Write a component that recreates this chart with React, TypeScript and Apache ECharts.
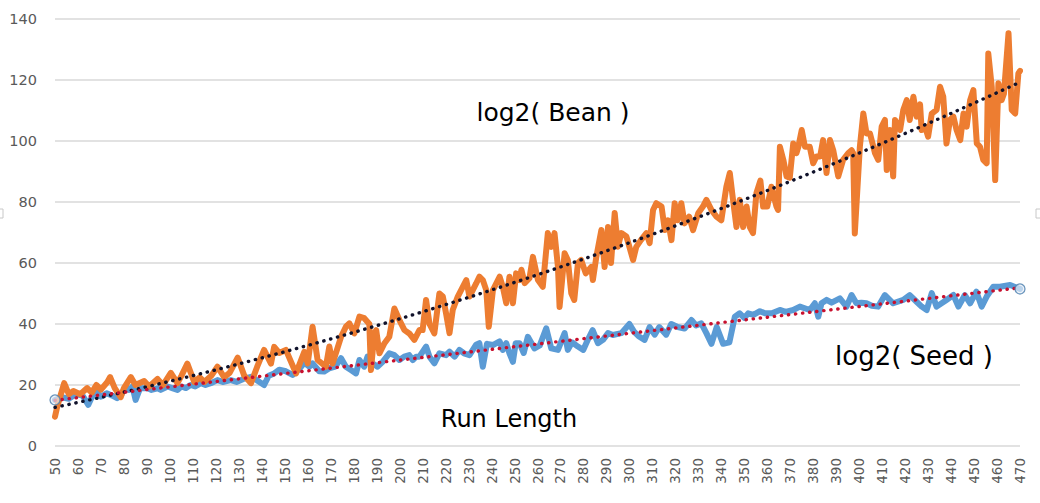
import React, { useEffect, useRef } from "react";
import * as echarts from "echarts";

// Run length (x) and log2(Bean) (y)
const beanData: [number, number][] = [
  [50, 9.6], [51, 13], [54, 20.6], [56, 17], [58, 18], [61, 17], [64, 19], [66, 17.5], [68, 20], [70, 18.5],
  [72.8, 21], [74, 22.6], [76, 19], [78.6, 16], [80, 19], [83, 22.6], [85, 20], [88.8, 21.3], [91, 19.5], [94.6, 22],
  [97, 20], [100.4, 24], [103.3, 20.6], [105, 23], [107.6, 27], [110.6, 21], [113, 22.5], [115, 21], [118, 23], [120.7, 26],
  [123.6, 22.6], [126, 24], [129.5, 29], [132.4, 23], [135.3, 20.6], [138, 26], [141, 31.5], [144, 27], [145.4, 32.5], [147.6, 30.5],
  [150.5, 31.5], [152.5, 28], [154.9, 23.8], [158.5, 30.9], [160, 27.1], [162.1, 39.1], [164.3, 28.2], [167.9, 26], [169.4, 32.6], [170.8, 27],
  [174.5, 35.8], [176.6, 39.1], [178.1, 40.2], [180.3, 36.9], [182.5, 42.4], [184.6, 41.9], [186.8, 40], [187.5, 24.9], [189, 36.9], [189.8, 38],
  [191.2, 30.4], [193.4, 33.7], [195.5, 35.8], [197.7, 45.1], [199.9, 41.3], [202.1, 38], [204.2, 36.9], [206.4, 34.8], [208.6, 38], [210, 38],
  [211.5, 47.9], [213, 40], [215.1, 36.9], [217.3, 50], [218.8, 49], [220.2, 43.5], [221.7, 37], [223.1, 44.6], [225.3, 49], [229, 54.4],
  [230.4, 49], [233.3, 53.3], [234.7, 55.5], [236.2, 54.4], [237.7, 51.1], [238.8, 39.1], [240.6, 51.1], [243.5, 55.5], [244.9, 52.2], [246.4, 46.8],
  [247.8, 55.5], [249.3, 46.8], [250.7, 56.6], [252.2, 54.4], [253, 57.8], [254.4, 53.4], [256.5, 55], [258, 62], [260.2, 54.4], [262.3, 52.2],
  [264.5, 69.8], [266, 65.3], [267.4, 69.8], [268.9, 58.7], [269.6, 45.6], [271.8, 63.2], [273.2, 61], [274.7, 50.1], [276, 47.9], [277.6, 60],
  [279, 61], [281, 56.6], [283.4, 58.7], [284.1, 54.4], [285.6, 62], [287.8, 70.8], [289.2, 58.7], [290.7, 71.8], [292, 60], [293.6, 76.4],
  [295, 65.3], [296.5, 69.8], [298.7, 68.7], [300, 65.3], [301.6, 61], [303, 65.3], [305, 67.5], [307.4, 69.8], [308.8, 66.5], [310.3, 77.4],
  [311.7, 79.6], [314, 78.5], [315.4, 70.8], [316.8, 74], [318.3, 67.5], [319.7, 79.6], [321, 74], [322.6, 79.6], [324, 73], [326, 75.2],
  [327.7, 70.8], [330, 76.4], [332, 78.5], [333.5, 80.7], [335.7, 77.4], [337.9, 75.2], [340, 74], [342.2, 85], [343.7, 89.5], [345.1, 80.7],
  [346.6, 71.8], [348, 80.7], [349.5, 71.8], [351, 78.5], [352.4, 71.8], [353.8, 69.8], [355.3, 83], [357, 87], [358.2, 78.5], [360, 78.5],
  [361.8, 85], [364, 78.5], [364.7, 77.4], [365.5, 98.1], [367, 93.8], [368.4, 88.4], [369.8, 88], [371.3, 99.2], [372.7, 96], [373.5, 98],
  [375, 103.6], [376.4, 98.1], [378.5, 98.1], [380, 92.7], [381.4, 94.9], [383, 94.9], [384.3, 100.3], [385.8, 89.5], [387.3, 100.3], [388.7, 97],
  [390.9, 88.4], [393, 93.8], [395.2, 96], [396.7, 97], [397.4, 96], [398.1, 69.7], [400.3, 98.1], [401.8, 109], [403.2, 102.5], [404.7, 102.5],
  [406.9, 96], [408.3, 93.8], [409.8, 104.7], [411.2, 106.9], [412, 90.5], [413.4, 103.6], [414.8, 88.4], [415.6, 106.9], [417.8, 103.6], [419.2, 110.2],
  [420.7, 113.4], [422, 106.9], [423.6, 114.5], [425, 108], [426.5, 112], [427.2, 103.6], [428.7, 104.7], [430, 101.4], [431.6, 109], [433.7, 110.2],
  [435.2, 117.8], [436.6, 114.5], [438, 99.2], [439.5, 106.9], [441, 108], [442.4, 103.6], [444, 100.3], [445.4, 109], [446.8, 104.7], [448.3, 113.4],
  [449.7, 116.7], [451.2, 99.2], [452.6, 98.1], [454, 93.8], [455.5, 92.7], [456.2, 128.7], [457.7, 117.8], [459.2, 87.2], [460.6, 118.9], [462, 113.4],
  [463, 115.5], [465, 135.3], [466.4, 110.2], [467.9, 109], [469.3, 122.2], [470, 123],
];

// Run length (x) and log2(Seed) (y)
const seedData: [number, number][] = [
  [50, 15.1], [53, 16], [56, 15.5], [59, 17], [62, 16.5], [64.5, 13.5], [66, 16], [68, 17.8], [70, 16.2], [72.5, 17.3],
  [75, 16.5], [77, 15.7], [79, 17], [80.8, 19.5], [82.2, 18.4], [83.7, 19.5], [85.1, 15.1], [87, 18.9], [90, 19], [92, 18.4],
  [94.6, 18.9], [96, 18.4], [99, 19.5], [101, 19], [103.3, 18.4], [105, 19.5], [107, 19], [109, 20], [111, 19.5], [113.5, 20.6],
  [115.5, 20], [117.8, 20.6], [120.7, 21.6], [123, 21], [126.5, 21.6], [129, 21], [132, 22], [135.3, 22.7], [138, 21.5], [141, 20],
  [143, 23], [145.4, 23.8], [147.6, 25], [150.5, 24.5], [153.4, 23.3], [156, 25], [158.5, 27.3], [160.7, 26], [162.1, 27.1], [165, 24.5],
  [167.2, 24.4], [169.4, 25.5], [172, 26], [174.5, 28.8], [176.6, 26], [178.8, 24.9], [181, 23.8], [182.5, 28.2], [184.6, 26], [186, 29.3],
  [188.3, 27.1], [190.4, 26], [192.6, 27.6], [195.5, 30.4], [197.7, 29.8], [199.9, 28.2], [202, 29.3], [204.2, 29.8], [205.7, 28.2], [207.2, 29.3],
  [208.6, 29.3], [211.5, 32.6], [213, 29.3], [215.1, 27.1], [217.3, 30.4], [220.2, 29.8], [221.7, 30.9], [223.9, 29.3], [226, 31.5], [228, 30.4],
  [230.4, 29.8], [233.3, 33.2], [234.7, 33.7], [236.2, 26], [238, 33.5], [240.6, 33.1], [243.5, 34.3], [244.9, 31.5], [246.4, 33.7], [247.8, 30.4],
  [249.3, 27.6], [250.5, 33.7], [252.2, 33.7], [254, 30.5], [255.8, 35.8], [258.7, 32], [261, 33], [263.8, 38.6], [266, 32], [268.9, 31.5],
  [271.8, 37], [273.2, 31.5], [275, 34], [277.6, 32.6], [279.9, 31.5], [282, 35], [284, 38], [286.3, 33.7], [288.5, 34.8], [290.7, 37],
  [292.8, 36.4], [296.5, 37], [300, 40], [302, 37.5], [304, 36], [306.6, 34.8], [308.8, 39], [311, 36.5], [313, 39], [316, 36.5],
  [318.2, 40], [321, 39], [324, 38.5], [327, 41.3], [329, 39.5], [331.3, 40.2], [333.5, 37], [335.7, 33.5], [338, 39], [340.8, 33.5],
  [343.5, 34], [345.9, 42.4], [348, 43.5], [350, 42], [351.7, 43.5], [354, 43], [356.8, 44.2], [359, 43.5], [362, 43.5], [365.5, 44.6],
  [368, 44], [371.3, 44.6], [374.2, 45.7], [378.5, 44.6], [380.7, 46.8], [382.2, 42.4], [383.6, 46.8], [385.8, 47.9], [388, 47], [391.6, 48.4],
  [394.5, 45.7], [396.7, 49.5], [398.8, 46.8], [401, 47], [403.2, 46.8], [405.5, 46], [408.3, 45.7], [411.2, 49.5], [414.8, 46.8], [419.2, 47.9],
  [422, 49.5], [425, 47.3], [427.2, 45.7], [429.4, 44.6], [431.6, 50.1], [433.7, 45.7], [438, 47.9], [441, 49.5], [443.2, 45.7], [446, 49.5],
  [448.3, 46.8], [451, 50.6], [453.3, 45.7], [455.5, 49], [458.4, 52.2], [461.3, 52.2], [465.7, 52.8], [469.3, 51.7], [470, 51.5],
];

const annotations = [
  { text: "log2( Bean )", x: 553, y: 112, size: 25 },
  { text: "log2( Seed )", x: 914, y: 356, size: 26 },
  { text: "Run Length", x: 509, y: 419, size: 24 },
];

const X_MIN = 50;
const X_MAX = 470;

function solve3(m: number[][], v: number[]): number[] {
  const a = m.map((row, i) => [...row, v[i]]);
  for (let i = 0; i < 3; i++) {
    let p = i;
    for (let r = i + 1; r < 3; r++) if (Math.abs(a[r][i]) > Math.abs(a[p][i])) p = r;
    [a[i], a[p]] = [a[p], a[i]];
    for (let r = 0; r < 3; r++) {
      if (r === i) continue;
      const f = a[r][i] / a[i][i];
      for (let c = i; c < 4; c++) a[r][c] -= f * a[i][c];
    }
  }
  return [a[0][3] / a[0][0], a[1][3] / a[1][1], a[2][3] / a[2][2]];
}

// Polynomial (order 2) trendline, as the spreadsheet does
function quadFit(pts: [number, number][]) {
  const s = [0, 0, 0, 0, 0];
  const t = [0, 0, 0];
  for (const [x0, y] of pts) {
    const x = (x0 - X_MIN) / 100;
    for (let k = 0; k < 5; k++) s[k] += Math.pow(x, k);
    for (let k = 0; k < 3; k++) t[k] += y * Math.pow(x, k);
  }
  const c = solve3(
    [
      [s[0], s[1], s[2]],
      [s[1], s[2], s[3]],
      [s[2], s[3], s[4]],
    ],
    t
  );
  return (x0: number) => {
    const x = (x0 - X_MIN) / 100;
    return c[0] + c[1] * x + c[2] * x * x;
  };
}

// Linear trendline
function linFit(pts: [number, number][]) {
  const n = pts.length;
  let sx = 0, sy = 0, sxx = 0, sxy = 0;
  for (const [x, y] of pts) {
    sx += x; sy += y; sxx += x * x; sxy += x * y;
  }
  const b = (n * sxy - sx * sy) / (n * sxx - sx * sx);
  const a = (sy - b * sx) / n;
  return (x: number) => a + b * x;
}

export default function App() {
  const ref = useRef<HTMLDivElement>(null);

  useEffect(() => {
    if (!ref.current) return;
    const chart = echarts.init(ref.current, undefined, { renderer: "svg" });

    const beanTrend = quadFit(beanData);
    const seedTrend = linFit(seedData);
    const beanTrendData: [number, number][] = [];
    for (let r = X_MIN; r <= X_MAX; r += 5) beanTrendData.push([r, beanTrend(r)]);
    const seedTrendData: [number, number][] = [
      [X_MIN, seedTrend(X_MIN)],
      [X_MAX, seedTrend(X_MAX)],
    ];
    const seedEnds = [seedData[0], seedData[seedData.length - 1]];

    const font = "DejaVu Sans";

    chart.setOption({
      animation: false,
      backgroundColor: "#ffffff",
      grid: { left: 55, right: 20, top: 19, bottom: 57, containLabel: false },
      xAxis: {
        type: "value",
        min: X_MIN,
        max: X_MAX,
        interval: 10,
        axisLine: { show: false },
        axisTick: { show: false },
        splitLine: { show: false },
        axisLabel: {
          rotate: 90,
          margin: 12,
          color: "#595959",
          fontFamily: font,
          fontSize: 13.5,
        },
      },
      yAxis: {
        type: "value",
        min: 0,
        max: 140,
        interval: 20,
        axisLine: { show: false },
        axisTick: { show: false },
        splitLine: { lineStyle: { color: "#D9D9D9", width: 1.5 } },
        axisLabel: {
          margin: 18,
          color: "#595959",
          fontFamily: font,
          fontSize: 14.5,
        },
      },
      series: [
        {
          name: "log2( Seed )",
          type: "line",
          data: seedData,
          showSymbol: false,
          symbol: "none",
          lineStyle: { color: "#5B9BD5", width: 6, join: "round", cap: "round" },
          z: 2,
        },
        {
          name: "log2( Bean )",
          type: "line",
          data: beanData,
          showSymbol: false,
          symbol: "none",
          lineStyle: { color: "#ED7D31", width: 6, join: "round", cap: "round" },
          z: 3,
        },
        {
          name: "Bean trend",
          type: "line",
          data: beanTrendData,
          showSymbol: false,
          symbol: "none",
          lineStyle: { color: "#10122B", width: 3.4, type: [0.3, 6.8], cap: "round" },
          z: 4,
        },
        {
          name: "Seed trend",
          type: "line",
          data: seedTrendData,
          showSymbol: false,
          symbol: "none",
          lineStyle: { color: "#C8102E", width: 3.4, type: [0.3, 6.8], cap: "round" },
          z: 4,
        },
        {
          name: "Seed ends",
          type: "scatter",
          data: seedEnds,
          symbol: "circle",
          symbolSize: 10,
          itemStyle: { color: "rgba(232,238,246,0.85)", borderColor: "#4A7EAE", borderWidth: 1.3 },
          z: 5,
        },
      ],
      graphic: [
        ...annotations.map((a) => ({
          type: "text",
          x: a.x,
          y: a.y,
          style: {
            text: a.text,
            fill: "#000000",
            font: `${a.size}px "${font}"`,
            textAlign: "center",
            textVerticalAlign: "middle",
          },
        })),
        {
          type: "rect",
          shape: { x: -2, y: 209, width: 5, height: 9 },
          style: { fill: "#ffffff", stroke: "#C8C8C8", lineWidth: 1 },
        },
        {
          type: "rect",
          shape: { x: 1036, y: 209, width: 6, height: 9 },
          style: { fill: "#ffffff", stroke: "#C8C8C8", lineWidth: 1 },
        },
      ],
    });

    return () => chart.dispose();
  }, []);

  return (
    <div
      ref={ref}
      style={{ position: "fixed", left: 0, top: 0, width: 1040, height: 503, background: "#fff" }}
    />
  );
}
